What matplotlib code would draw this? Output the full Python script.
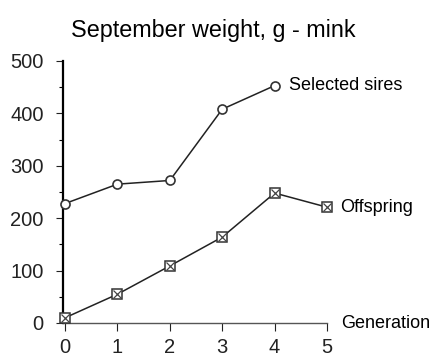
import matplotlib.pyplot as plt
from matplotlib.ticker import MultipleLocator

plt.rcParams['font.family'] = ['Liberation Sans', 'DejaVu Sans']

# data
gen_sires = [0, 1, 2, 3, 4]
sires = [228, 265, 272, 408, 453]
gen_off = [0, 1, 2, 3, 4, 5]
offspring = [10, 55, 109, 164, 248, 221]
xticks = [0, 1, 2, 3, 4, 5]
yticks = [0, 100, 200, 300, 400, 500]

W, H = 437, 364
fig = plt.figure(figsize=(W / 100, H / 100), dpi=100)
ax = fig.add_axes([63 / W, 41 / H, 264 / W, 262 / H])

ax.plot(gen_sires, sires, color='#222222', lw=1.1, marker='o', ms=6.5,
        mfc='white', mec='#333333', mew=1.2, clip_on=False, zorder=3)
ax.plot(gen_off, offspring, color='#222222', lw=1.1, marker='s', ms=6.5,
        mfc='white', mec='#333333', mew=1.1, clip_on=False, zorder=3)
ax.plot(gen_off, offspring, ls='none', marker='x', ms=5.5, mec='#444444',
        mew=0.9, clip_on=False, zorder=4)

ax.set_xlim(-0.04, 5)
ax.set_ylim(0, 500)
ax.set_xticks(xticks)
ax.set_yticks(yticks)
ax.yaxis.set_minor_locator(MultipleLocator(50))
for s in ['top', 'right']:
    ax.spines[s].set_visible(False)
ax.spines['left'].set_linewidth(1.6)
ax.spines['bottom'].set_linewidth(1.0)
ax.spines['bottom'].set_color('#555555')
ax.tick_params(axis='both', labelsize=14.5, colors='#222222', width=0.8)
ax.tick_params(axis='y', length=5, pad=9)
ax.tick_params(axis='y', which='minor', length=3, width=0.8)
ax.tick_params(axis='x', length=6, pad=5)
ax.set_facecolor('white')

ax.text(4.27, 453, 'Selected sires', fontsize=13, va='center', ha='left')
ax.text(5.25, 221, 'Offspring', fontsize=13, va='center', ha='left')
ax.text(5.27, 0, 'Generation', fontsize=13, va='center', ha='left', clip_on=False)

fig.text(213 / W, 1 - 31 / H, 'September weight, g - mink', fontsize=16.8,
         ha='center', va='center')

fig.savefig('out.png', dpi=100)
